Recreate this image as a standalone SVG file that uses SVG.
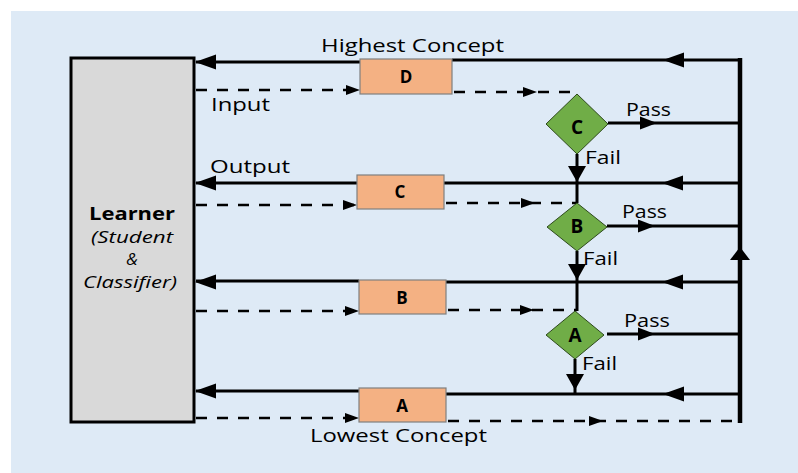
<svg xmlns="http://www.w3.org/2000/svg" xmlns:xlink="http://www.w3.org/1999/xlink" width="798" height="473" viewBox="0 0 798 473">
<style>
.t{font-family:"Open Sans","DejaVu Sans",sans-serif;font-size:18px;fill:#000}
.b{font-family:"Open Sans","DejaVu Sans",sans-serif;font-size:17px;font-weight:bold;fill:#000;text-anchor:middle}
.bd{font-size:19px}
.i{font-family:"Open Sans","DejaVu Sans",sans-serif;font-size:17px;font-style:italic;fill:#000;text-anchor:middle}
.s{stroke:#000;stroke-width:3;fill:none}
.d{stroke:#000;stroke-width:2.5;fill:none;stroke-dasharray:11 10}
.box{fill:#F4B183;stroke:#7f7f7f;stroke-width:1.2}
.dia{fill:#70AD47;stroke:#2e4a1c;stroke-width:1}
</style>
<defs>
<polygon id="aL" points="0,0 21,-7.5 21,7.5" fill="#000"/>
<polygon id="aR" points="0,0 -17,-6.5 -17,6.5" fill="#000"/>
<polygon id="aD" points="0,0 -9,-16 9,-16" fill="#000"/>
<polygon id="aU" points="0,0 -10,13 10,13" fill="#000"/>
<polygon id="dR" points="0,0 -14,-5 -14,5" fill="#000"/>
</defs>
<rect x="11" y="11" width="787" height="462" fill="#DEEAF6"/>

<g id="connectors">
<!-- Row D -->
<line class="s" x1="196" y1="62" x2="360" y2="62"/>
<use xlink:href="#aL" x="195" y="62"/>
<line class="s" x1="452" y1="60" x2="742" y2="60"/>
<use xlink:href="#aL" x="663" y="60"/>
<line class="d" x1="196" y1="90" x2="358" y2="90"/>
<use xlink:href="#dR" x="360" y="90"/>
<line class="d" x1="454" y1="92" x2="580" y2="92"/>
<use xlink:href="#dR" x="537" y="92"/>
<!-- Diamond C outputs -->
<line class="s" x1="608" y1="123" x2="740" y2="123"/>
<use xlink:href="#aR" x="657" y="123"/>
<line class="s" x1="577" y1="154" x2="577" y2="203"/>
<use xlink:href="#aD" x="577" y="182"/>
<!-- Row C -->
<line class="s" x1="196" y1="183" x2="357" y2="183"/>
<use xlink:href="#aL" x="195" y="183"/>
<line class="s" x1="444" y1="183" x2="740" y2="183"/>
<use xlink:href="#aL" x="662" y="183"/>
<line class="d" x1="196" y1="205" x2="355" y2="205"/>
<use xlink:href="#dR" x="357" y="205"/>
<line class="d" x1="446" y1="203" x2="577" y2="203"/>
<use xlink:href="#dR" x="535" y="203"/>
<!-- Diamond B outputs -->
<line class="s" x1="607" y1="226" x2="740" y2="226"/>
<use xlink:href="#aR" x="655" y="226"/>
<line class="s" x1="577" y1="251" x2="577" y2="311"/>
<use xlink:href="#aD" x="577" y="280"/>
<!-- Row B -->
<line class="s" x1="196" y1="281" x2="359" y2="281"/>
<use xlink:href="#aL" x="195" y="282"/>
<line class="s" x1="446" y1="282" x2="740" y2="282"/>
<use xlink:href="#aL" x="662" y="282"/>
<line class="d" x1="196" y1="311" x2="357" y2="311"/>
<use xlink:href="#dR" x="359" y="311"/>
<line class="d" x1="448" y1="310" x2="577" y2="310"/>
<use xlink:href="#dR" x="534" y="310"/>
<!-- Diamond A outputs -->
<line class="s" x1="607" y1="334" x2="740" y2="334"/>
<use xlink:href="#aR" x="655" y="334"/>
<line class="s" x1="575" y1="359" x2="575" y2="394"/>
<use xlink:href="#aD" x="575" y="390"/>
<!-- Row A -->
<line class="s" x1="196" y1="391" x2="359" y2="391"/>
<use xlink:href="#aL" x="195" y="391"/>
<line class="s" x1="446" y1="394" x2="740" y2="394"/>
<use xlink:href="#aL" x="663" y="394"/>
<line class="d" x1="196" y1="418" x2="357" y2="418"/>
<use xlink:href="#dR" x="359" y="418"/>
<line class="d" x1="448" y1="421" x2="740" y2="421"/>
<use xlink:href="#dR" x="603" y="421"/>
<!-- Right feedback bus -->
<line stroke="#000" stroke-width="4.5" x1="740" y1="58" x2="740" y2="423"/>
<use xlink:href="#aU" x="740" y="247"/>
</g>

<g id="learner">
<rect x="71" y="58" width="123" height="364" fill="#D9D9D9" stroke="#000" stroke-width="3"/>
<text class="b" x="132" y="220" font-size="19" textLength="86" lengthAdjust="spacingAndGlyphs">Learner</text>
<text class="i" x="132" y="243" textLength="82" lengthAdjust="spacingAndGlyphs">(Student</text>
<text class="i" x="132" y="265" font-size="19">&amp;</text>
<text class="i" x="130" y="288" textLength="94" lengthAdjust="spacingAndGlyphs">Classifier)</text>
</g>

<g id="box-D">
<rect class="box" x="360" y="59" width="92" height="35"/>
<text class="b" x="406" y="83">D</text>
</g>
<g id="box-C">
<rect class="box" x="357" y="175" width="87" height="34"/>
<text class="b" x="400" y="198">C</text>
</g>
<g id="box-B">
<rect class="box" x="359" y="280" width="87" height="34"/>
<text class="b" x="402" y="304">B</text>
</g>
<g id="box-A">
<rect class="box" x="359" y="388" width="87" height="34"/>
<text class="b" x="402" y="412">A</text>
</g>

<g id="test-C">
<polygon class="dia" points="577,94 608,124 577,154 546,124"/>
<text class="b bd" x="577" y="134">C</text>
</g>
<g id="test-B">
<polygon class="dia" points="577,203 607,227 577,251 547,227"/>
<text class="b bd" x="577" y="233">B</text>
</g>
<g id="test-A">
<polygon class="dia" points="575,311 604,335 575,359 546,335"/>
<text class="b bd" x="575" y="342">A</text>
</g>

<g id="labels">
<text class="t" x="321" y="52" textLength="183" lengthAdjust="spacingAndGlyphs">Highest Concept</text>
<text class="t" x="211" y="111" textLength="59" lengthAdjust="spacingAndGlyphs">Input</text>
<text class="t" x="210" y="173" textLength="80" lengthAdjust="spacingAndGlyphs">Output</text>
<text class="t" x="626" y="116" textLength="45" lengthAdjust="spacingAndGlyphs">Pass</text>
<text class="t" x="585" y="164" textLength="36" lengthAdjust="spacingAndGlyphs">Fail</text>
<text class="t" x="622" y="218" textLength="45" lengthAdjust="spacingAndGlyphs">Pass</text>
<text class="t" x="583" y="265" textLength="35" lengthAdjust="spacingAndGlyphs">Fail</text>
<text class="t" x="624" y="327" textLength="46" lengthAdjust="spacingAndGlyphs">Pass</text>
<text class="t" x="582" y="370" textLength="35" lengthAdjust="spacingAndGlyphs">Fail</text>
<text class="t" x="310" y="442" textLength="177" lengthAdjust="spacingAndGlyphs">Lowest Concept</text>
</g>
</svg>
